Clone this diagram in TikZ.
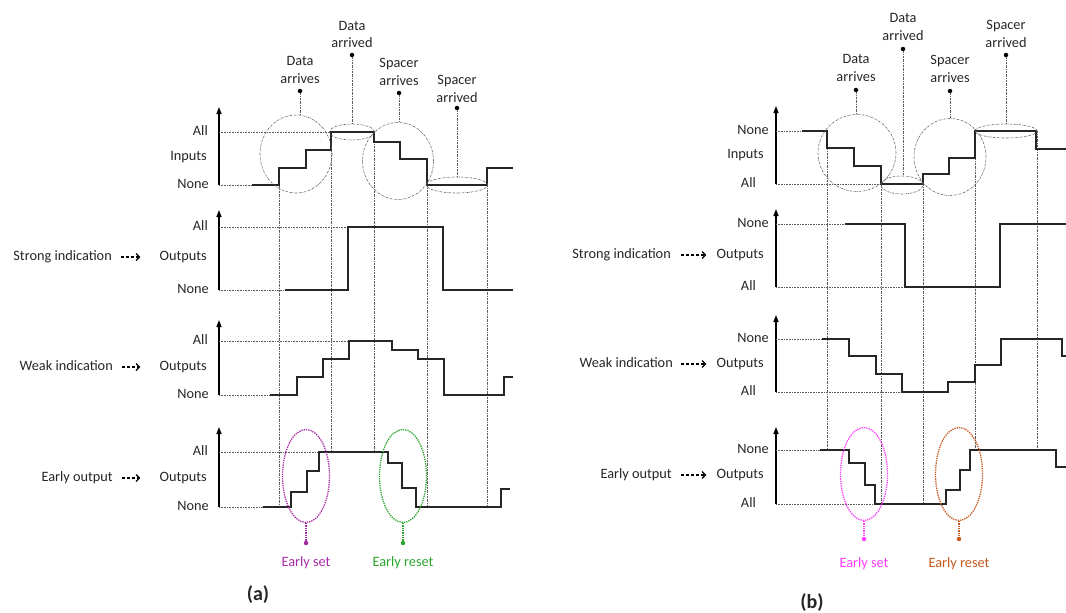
\documentclass[tikz,border=0pt]{standalone}
\usepackage{fontspec}
\setmainfont{Carlito}
\usetikzlibrary{arrows.meta,shapes.geometric}
\definecolor{setA}{HTML}{A62AA6}
\definecolor{resetA}{HTML}{2BA52B}
\definecolor{setB}{HTML}{FF3CFF}
\definecolor{resetB}{HTML}{C45A1E}
\definecolor{guidec}{HTML}{5E5E5E}
\tikzset{
 wave/.style={line width=1.4pt, line join=miter, black!85},
 axisline/.style={line width=1.4pt, -{Triangle[length=7pt,width=5pt]}},
 hguide/.style={densely dotted, line width=0.6pt, guidec},
 vguide/.style={dash pattern=on 2pt off 1pt on 0.5pt off 1pt, line width=0.6pt, guidec},
 ring/.style={ellipse, draw=guidec, dash pattern=on 2pt off 1pt on 0.5pt off 1pt, line width=0.6pt, inner sep=0pt},
 pinline/.style={dash pattern=on 2pt off 1pt on 0.5pt off 1pt, line width=0.6pt, guidec},
 lvl/.style={inner sep=0pt, text=black!85, font=\fontsize{14.3}{17}\selectfont, text height=9.5pt, text depth=2.5pt},
 toplbl/.style={inner sep=0pt, text=black!85, align=center, font=\fontsize{14.3}{17.5}\selectfont},
 dot/.style={circle, fill=black, inner sep=0pt, minimum size=4.5pt},
 darr/.style={densely dashed, line width=1.1pt, -{Straight Barb[length=3.5pt,width=7pt,line width=1.3pt]}},
 earlyring/.style={ellipse, draw, densely dotted, line width=1.3pt, inner sep=0pt, minimum width=47pt, minimum height=93pt},
 earlypin/.style={densely dotted, line width=1.3pt},
 title/.style={font=\fontsize{20}{24}\selectfont\bfseries, text=black!85, inner sep=0pt}
}
\begin{document}
\begin{tikzpicture}[x=1pt,y=-1pt]
\useasboundingbox (0,0) rectangle (1066,613);

% ================= PANEL (a) =================
\draw[axisline] (219,185) -- (219,107);
\draw[axisline] (219,290) -- (219,210);
\draw[axisline] (219,395) -- (219,320);
\draw[axisline] (219,507) -- (219,427);

\draw[hguide] (219,132) -- (331,132);
\draw[hguide] (219,185) -- (252,185);
\draw[hguide] (219,227) -- (348,227);
\draw[hguide] (219,290) -- (285,290);
\draw[hguide] (219,341) -- (349,341);
\draw[hguide] (219,395) -- (270,395);
\draw[hguide] (219,452) -- (319,452);
\draw[hguide] (219,507) -- (263,507);

\draw[vguide] (279,168) -- (279,507);
\draw[vguide] (331,132) -- (331,452);
\draw[vguide] (374,132) -- (374,452);
\draw[vguide] (427,185) -- (427,507);
\draw[vguide] (487,185) -- (487,507);

\node[lvl, anchor=east] (aIall) at (208,132) {All};
\node[lvl, anchor=east] (aIin) at (207,157) {Inputs};
\node[lvl, anchor=east] (aInone) at (209,185) {None};
\node[lvl, anchor=east] (aSall) at (208,227) {All};
\node[lvl, anchor=east] (aSout) at (207,257) {Outputs};
\node[lvl, anchor=east] (aSnone) at (209,290) {None};
\node[lvl, anchor=east] (aWall) at (208,341) {All};
\node[lvl, anchor=east] (aWout) at (207,367) {Outputs};
\node[lvl, anchor=east] (aWnone) at (209,395) {None};
\node[lvl, anchor=east] (aEall) at (208,452) {All};
\node[lvl, anchor=east] (aEout) at (207,478) {Outputs};
\node[lvl, anchor=east] (aEnone) at (209,507) {None};

\node[lvl, anchor=east] (aSlab) at (112,257) {Strong indication};
\node[lvl, anchor=east] (aWlab) at (113,367) {Weak indication};
\node[lvl, anchor=east] (aElab) at (113,478) {Early output};
\draw[darr, shorten <=9pt, shorten >=19pt] (aSlab.east) -- (aSout.west);
\draw[darr, shorten <=9pt, shorten >=19pt] (aWlab.east) -- (aWout.west);
\draw[darr, shorten <=9pt, shorten >=19pt] (aElab.east) -- (aEout.west);

\draw[wave] (252,185) -- (279,185) -- (279,168) -- (306,168) -- (306,150) -- (331,150) -- (331,132) -- (374,132) -- (374,142) -- (400,142) -- (400,159) -- (427,159) -- (427,185) -- (487,185) -- (487,168) -- (513,168);
\draw[wave] (285,290) -- (348,290) -- (348,227) -- (443,227) -- (443,290) -- (513,290);
\draw[wave] (270,395) -- (297,395) -- (297,377) -- (323,377) -- (323,359) -- (349,359) -- (349,341) -- (392,341) -- (392,350) -- (418,350) -- (418,359) -- (444,359) -- (444,395) -- (504,395) -- (504,377) -- (513,377);
\draw[wave] (263,507) -- (291,507) -- (291,492) -- (307,492) -- (307,471) -- (319,471) -- (319,452) -- (388,452) -- (388,463) -- (402,463) -- (402,488) -- (416,488) -- (416,507) -- (501,507) -- (501,489) -- (510,489);

\node[ring, minimum width=72pt, minimum height=78pt] (rA1) at (296,154) {};
\node[ring, minimum width=45pt, minimum height=16pt] (rA2) at (352,132) {};
\node[ring, minimum width=71pt, minimum height=77pt] (rA3) at (398,161) {};
\node[ring, minimum width=61pt, minimum height=16pt] (rA4) at (457,185) {};

\node[toplbl] (tA1) at (300,70) {Data\\arrives};
\node[toplbl] (tA2) at (352,34.5) {Data\\arrived};
\node[toplbl] (tA3) at (399,72) {Spacer\\arrives};
\node[toplbl] (tA4) at (457,89) {Spacer\\arrived};
\node[dot] (dA1) at (300,91) {};
\node[dot] (dA2) at (352,55) {};
\node[dot] (dA3) at (399,93) {};
\node[dot] (dA4) at (457,108) {};
\draw[pinline] (dA1) -- (dA1 |- rA1.north);
\draw[pinline] (dA2) -- (rA2.north);
\draw[pinline] (dA3) -- (dA3 |- rA3.north);
\draw[pinline] (dA4) -- (rA4.north);

\node[earlyring, draw=setA] (eA1) at (306,476) {};
\node[earlyring, draw=resetA] (eA2) at (403,476) {};
\node[dot, fill=setA] (deA1) at (306,543) {};
\node[dot, fill=resetA] (deA2) at (403,543) {};
\draw[earlypin, setA] (eA1.south) -- (deA1);
\draw[earlypin, resetA] (eA2.south) -- (deA2);
\node[lvl, text=setA] (lA1) at (306,563) {Early set};
\node[lvl, text=resetA] (lA2) at (403,563) {Early reset};

\node[title] (capA) at (258,595) {(a)};

% ================= PANEL (b) =================
\draw[axisline] (776,184) -- (776,106);
\draw[axisline] (776,287) -- (776,209);
\draw[axisline] (776,392) -- (776,315);
\draw[axisline] (776,504) -- (776,427);

\draw[hguide] (776,131) -- (802,131);
\draw[hguide] (776,184) -- (881,184);
\draw[hguide] (776,224) -- (845,224);
\draw[hguide] (776,287) -- (905,287);
\draw[hguide] (776,339) -- (822,339);
\draw[hguide] (776,392) -- (902,392);
\draw[hguide] (776,450) -- (820,450);
\draw[hguide] (776,504) -- (875,504);

\draw[vguide] (827,148) -- (827,450);
\draw[vguide] (881,184) -- (881,504);
\draw[vguide] (923,184) -- (923,504);
\draw[vguide] (975,131) -- (975,450);
\draw[vguide] (1037,131) -- (1037,450);

\node[lvl, anchor=east] (bInone) at (769,131) {None};
\node[lvl, anchor=east] (bIin) at (764,155) {Inputs};
\node[lvl, anchor=east] (bIall) at (756,184) {All};
\node[lvl, anchor=east] (bSnone) at (769,224) {None};
\node[lvl, anchor=east] (bSout) at (764,255) {Outputs};
\node[lvl, anchor=east] (bSall) at (756,287) {All};
\node[lvl, anchor=east] (bWnone) at (769,339) {None};
\node[lvl, anchor=east] (bWout) at (764,364) {Outputs};
\node[lvl, anchor=east] (bWall) at (756,392) {All};
\node[lvl, anchor=east] (bEnone) at (769,450) {None};
\node[lvl, anchor=east] (bEout) at (764,475) {Outputs};
\node[lvl, anchor=east] (bEall) at (756,504) {All};

\node[lvl, anchor=east] (bSlab) at (671,255) {Strong indication};
\node[lvl, anchor=east] (bWlab) at (673,364) {Weak indication};
\node[lvl, anchor=east] (bElab) at (672,475) {Early output};
\draw[darr, shorten <=10pt, shorten >=10pt] (bSlab.east) -- (bSout.west);
\draw[darr, shorten <=8pt, shorten >=10pt] (bWlab.east) -- (bWout.west);
\draw[darr, shorten <=9pt, shorten >=10pt] (bElab.east) -- (bEout.west);

\draw[wave] (802,131) -- (827,131) -- (827,148) -- (854,148) -- (854,166) -- (881,166) -- (881,184) -- (923,184) -- (923,174) -- (949,174) -- (949,158) -- (975,158) -- (975,131) -- (1036,131) -- (1036,149) -- (1066,149);
\draw[wave] (845,224) -- (905,224) -- (905,287) -- (1000,287) -- (1000,224) -- (1066,224);
\draw[wave] (822,339) -- (849,339) -- (849,356) -- (876,356) -- (876,374) -- (902,374) -- (902,392) -- (948,392) -- (948,382) -- (975,382) -- (975,365) -- (1001,365) -- (1001,339) -- (1062,339) -- (1062,356) -- (1066,356);
\draw[wave] (820,450) -- (849,450) -- (849,463) -- (865,463) -- (865,485) -- (875,485) -- (875,504) -- (946,504) -- (946,490) -- (960,490) -- (960,470) -- (970,470) -- (970,450) -- (1056,450) -- (1056,467) -- (1066,467);

\node[ring, minimum width=78pt, minimum height=77pt] (rB1) at (857,153) {};
\node[ring, minimum width=42pt, minimum height=18pt] (rB2) at (902,185) {};
\node[ring, minimum width=72pt, minimum height=77pt] (rB3) at (950,157) {};
\node[ring, minimum width=62pt, minimum height=14pt] (rB4) at (1006,131) {};

\node[toplbl] (tB1) at (856,68) {Data\\arrives};
\node[toplbl] (tB2) at (903,27) {Data\\arrived};
\node[toplbl] (tB3) at (950,69) {Spacer\\arrives};
\node[toplbl] (tB4) at (1006,34) {Spacer\\arrived};
\node[dot] (dB1) at (856,90) {};
\node[dot] (dB2) at (903,49) {};
\node[dot] (dB3) at (950,91) {};
\node[dot] (dB4) at (1006,55) {};
\draw[pinline] (dB1) -- (dB1 |- rB1.north);
\draw[pinline] (dB2) -- (dB2 |- rB2.north);
\draw[pinline] (dB3) -- (dB3 |- rB3.north);
\draw[pinline] (dB4) -- (dB4 |- rB4.north);

\node[earlyring, draw=setB] (eB1) at (864,474) {};
\node[earlyring, draw=resetB] (eB2) at (959,474) {};
\node[dot, fill=setB] (deB1) at (864,539) {};
\node[dot, fill=resetB] (deB2) at (959,539) {};
\draw[earlypin, setB] (eB1.south) -- (deB1);
\draw[earlypin, resetB] (eB2.south) -- (deB2);
\node[lvl, text=setB] (lB1) at (864,564) {Early set};
\node[lvl, text=resetB] (lB2) at (959,564) {Early reset};

\node[title] (capB) at (812,603) {(b)};
\end{tikzpicture}
\end{document}
